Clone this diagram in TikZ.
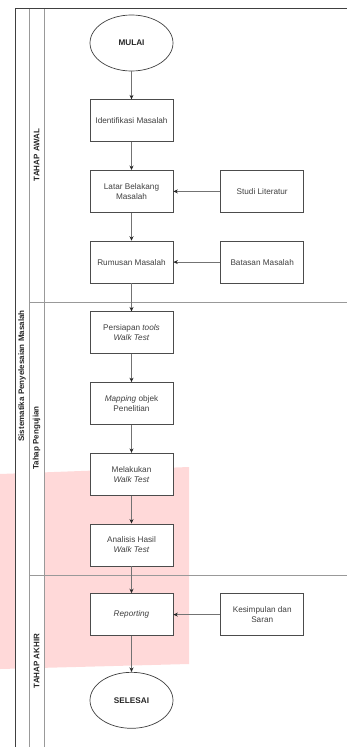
\documentclass[tikz,border=0pt]{standalone}
\usepackage{fontspec}
\setmainfont{Liberation Sans}
\usetikzlibrary{arrows.meta,shapes,positioning}

\definecolor{merahmuda}{RGB}{255,217,217}

\begin{document}
\begin{tikzpicture}[x=1pt,y=-1pt,node distance=28pt and 47pt,
    >={Stealth[length=4.5pt,width=4pt,color=black!85]},
    font=\fontsize{8.2}{10}\selectfont]
  \tikzstyle{proses}=[rectangle,draw=black!70,fill=white,line width=0.7pt,
              text=black!75,minimum width=83pt,minimum height=42pt,inner sep=1pt,align=center]
  \tikzstyle{terminal}=[ellipse,draw=black!75,fill=white,line width=0.7pt,text=black!85,
              minimum width=83pt,minimum height=56pt,inner sep=0pt,
              font=\fontsize{8.2}{10}\selectfont\bfseries]
  \tikzstyle{masuk}=[<-,draw=black!55,line width=0.8pt]
  \tikzstyle{lajur}=[draw=black!40,line width=0.8pt]
  \tikzstyle{judul}=[rotate=90,text=black!85,font=\fontsize{8}{10}\selectfont\bfseries]
  \useasboundingbox (0,0) rectangle (347,747);
  % bidang merah muda
  \fill[merahmuda] (0,474) -- (189,467) -- (189,664) -- (0,669) -- cycle;
  % kolam dan lajur
  \fill[white] (15,8) rectangle (44,747);
  \draw[lajur] (29,8) -- (29,747) (44,8) -- (44,747);
  \draw[lajur] (29,302) -- (347,302) (29,575) -- (347,575);
  \draw[draw=black!75,line width=0.8pt] (15,747) -- (15,8) -- (347,8);
  \node [judul] (kolam) at (22,376) {Sistematika Penyelesaian Masalah};
  \node [judul] (awal) at (36.5,155) {TAHAP AWAL};
  \node [judul] (pengujian) at (36.5,438) {Tahap Pengujian};
  \node [judul] (akhir) at (36.5,661) {TAHAP AKHIR};
  % alur utama
  \node [terminal] (mulai) at (131.5,43) {MULAI};
  \node [proses] (identifikasi) [below=of mulai] {Identifikasi Masalah} edge [masuk] (mulai);
  \node [proses] (latar) [below=of identifikasi] {Latar Belakang\\Masalah} edge [masuk] (identifikasi);
  \node [proses] (studi) [right=of latar] {Studi Literatur};
  \node [proses] (rumusan) [below=of latar] {Rumusan Masalah} edge [masuk] (latar);
  \node [proses] (batasan) [right=of rumusan] {Batasan Masalah};
  \node [proses] (persiapan) [below=of rumusan] {Persiapan \textit{tools}\\\textit{Walk Test}} edge [masuk] (rumusan);
  \node [proses] (mapping) [below=of persiapan] {\textit{Mapping} objek\\Penelitian} edge [masuk] (persiapan);
  \node [proses] (melakukan) [below=of mapping] {Melakukan\\\textit{Walk Test}} edge [masuk] (mapping);
  \node [proses] (analisis) [below=of melakukan] {Analisis Hasil\\\textit{Walk Test}} edge [masuk] (melakukan);
  \node [proses] (reporting) [below=27pt of analisis] {\textit{Reporting}} edge [masuk] (analisis);
  \node [proses] (kesimpulan) [right=of reporting] {Kesimpulan dan\\Saran};
  \node [terminal] (selesai) [below=36pt of reporting] {SELESAI} edge [masuk] (reporting);
  % masukan dari samping
  \draw [masuk] (latar) -- (studi);
  \draw [masuk] (rumusan) -- (batasan);
  \draw [masuk] (reporting) -- (kesimpulan);
\end{tikzpicture}
\end{document}
